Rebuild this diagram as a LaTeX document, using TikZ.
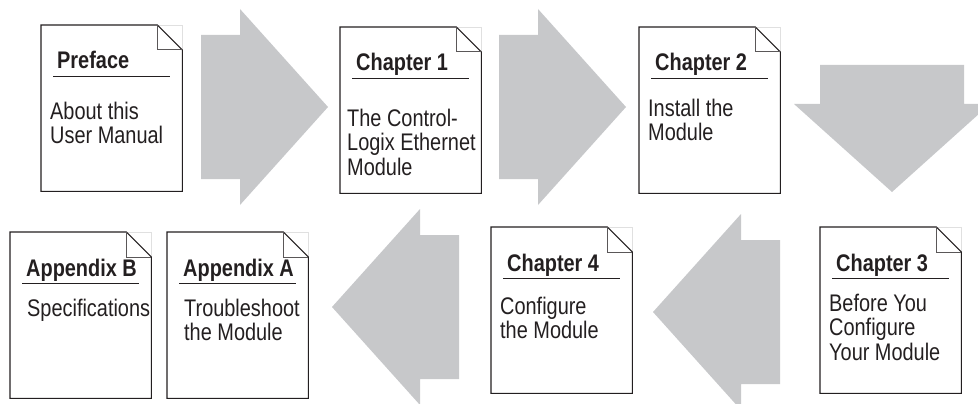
\documentclass[tikz,border=0pt]{standalone}
\usepackage{fontspec}
\setmainfont{Liberation Sans}[FakeStretch=0.83]
\usetikzlibrary{positioning,calc}
\definecolor{arrowgray}{RGB}{199,200,202}
\definecolor{ink}{RGB}{35,31,32}

\begin{document}
\begin{tikzpicture}[x=1pt,y=-1pt,
  doc/.style={minimum width=141pt, minimum height=166pt, inner sep=0pt, anchor=north west},
  docline/.style={draw=ink, line width=1.1pt},
  fold/.style={draw=ink!75, line width=1pt},
  faint/.style={draw=black!12, line width=0.8pt},
  ttl/.style={font=\bfseries\fontsize{24}{25}\selectfont, inner sep=0pt, anchor=base west, text=ink},
  body/.style={font=\fontsize{24}{24.5}\selectfont, inner sep=0pt, anchor=north west, align=left, text=ink},
  blk/.style={fill=arrowgray}
 ]
  \useasboundingbox (0,0) rectangle (978,404);
  \clip (0,0) rectangle (978,404);

  % big grey arrows (tip x / tip y / turn)
  \foreach \tx/\ty/\r in {328/107/0, 626/107/0, 892/192/-90, 332/307/180, 653/312/180} {
    \fill[blk, shift={(\tx,\ty)}, rotate=\r]
      (0,0) -- (-88,-98) -- (-88,-72) -- (-127,-72) -- (-127,72) -- (-88,72) -- (-88,98) -- cycle;
  }

  % pages
  \foreach \n/\x/\y/\t/\b/\bx/\by in {
    pref/41/25/Preface/{About this\\User Manual}/9/76.5,
    chone/340/27/Chapter 1/{The Control-\\Logix Ethernet\\Module}/7/81.5,
    chtwo/639/27/Chapter 2/{Install the\\Module}/9/71.5,
    appb/10/232/Appendix B/{Specifications}/17/66.5,
    appa/167/232/Appendix A/{Troubleshoot\\the Module}/17/66.5,
    chfour/491/227/Chapter 4/{Configure\\the Module}/9/69.5,
    chthree/820/227/Chapter 3/{Before You\\Configure\\Your Module}/9/66.5} {
    \node[doc] (\n) at (\x,\y) {};
    \draw[faint] ([xshift=-25pt]\n.north east) -- (\n.north east) -- ([yshift=-25pt]\n.north east);
    \draw[docline] (\n.south west) -- (\n.north west) -- ([xshift=-25pt]\n.north east)
      -- ([yshift=-25pt]\n.north east) -- (\n.south east) -- cycle;
    \draw[fold] ([xshift=-25pt]\n.north east) |- ([yshift=-25pt]\n.north east);
    \node[ttl] (\n-t) at ([xshift=16, yshift=-44]\n.north west) {\t};
    \draw[docline, line width=1pt] ([xshift=12, yshift=-51.5]\n.north west) -- ++(117,0);
    \node[body] (\n-b) at ([xshift=\bx, yshift=-\by]\n.north west) {\b};
  }
\end{tikzpicture}
\end{document}
